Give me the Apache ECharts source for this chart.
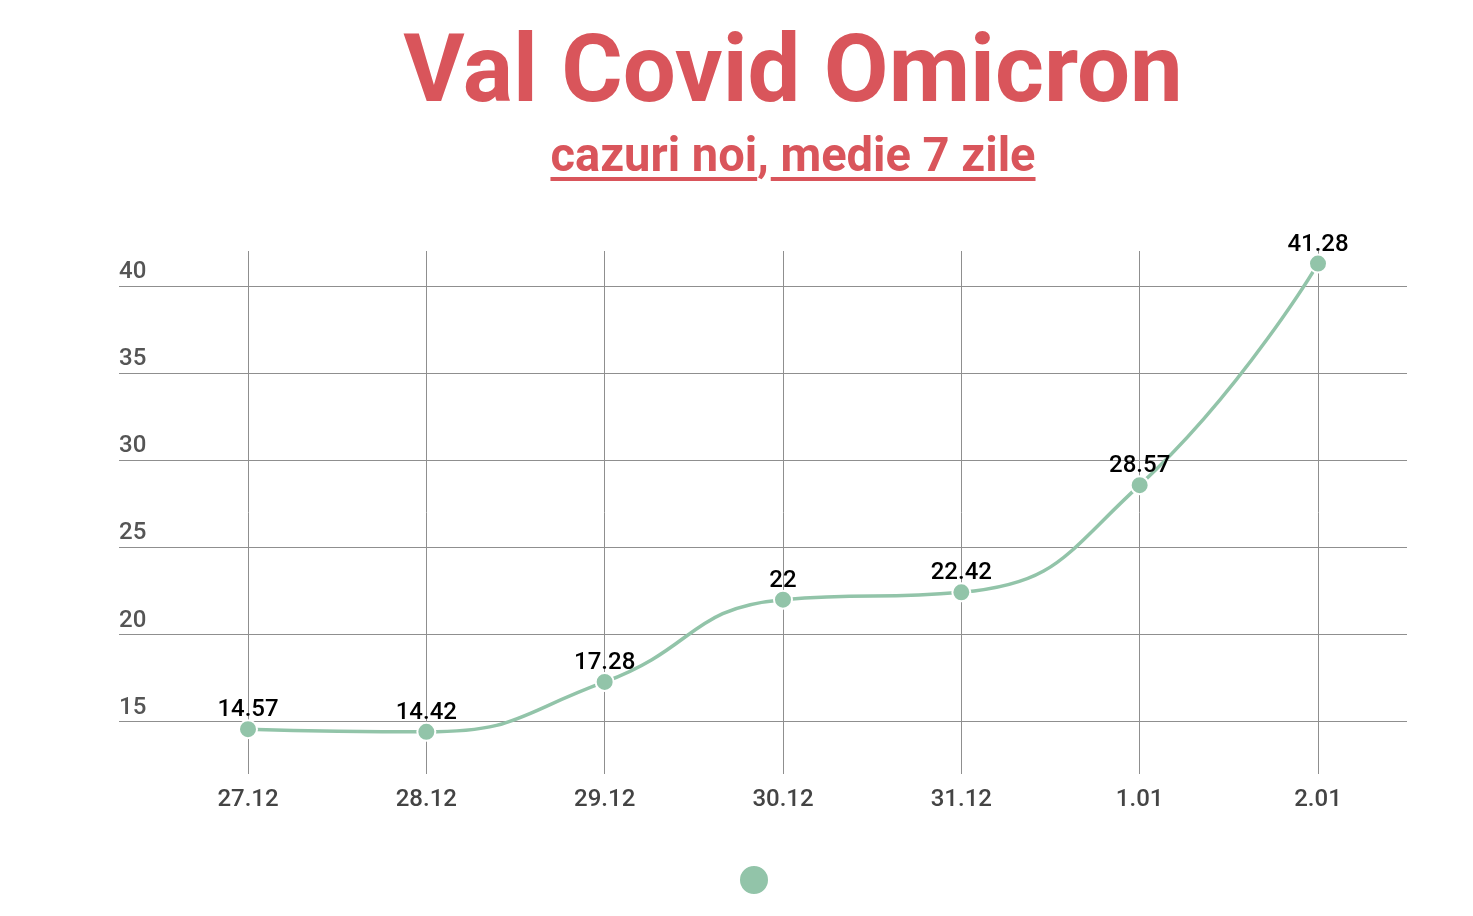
<!DOCTYPE html>
<html>
<head>
<meta charset="utf-8">
<script src="https://cdn.jsdelivr.net/npm/echarts@6/dist/echarts.min.js"></script>
<style>
html,body{margin:0;padding:0;background:#fff;}
#chart{width:1473px;height:916px;}
</style>
</head>
<body>
<div id="chart"></div>
<script>
const titleText = 'Val Covid Omicron';
const subtitleText = 'cazuri noi, medie 7 zile';
const categories = ['27.12', '28.12', '29.12', '30.12', '31.12', '1.01', '2.01'];
const values = [14.57, 14.42, 17.28, 22, 22.42, 28.57, 41.28];
const seriesName = 'cazuri noi';

const RED = '#d9555b';
const GREEN = '#92c4a9';
const FONT = 'Roboto';

function measure(text, font) {
  const c = document.createElement('canvas').getContext('2d');
  c.font = font;
  return c.measureText(text).width;
}

const chart = echarts.init(document.getElementById('chart'), null, {renderer: 'canvas'});
const titleCx = 793;
const subSize = 49;
const subScale = 0.96;
const subFont = 'bold ' + subSize + 'px ' + FONT;
const subW = measure(subtitleText, subFont) * subScale;
const subX0 = titleCx - subW / 2;
const part1 = subtitleText.split(',')[0];
const seg1W = measure(part1, subFont) * subScale;
const seg2X = subX0 + measure(part1 + ',', subFont) * subScale + 2;

const option = {
  backgroundColor: '#fff',
  animation: false,
  graphic: [
    {type: 'text', x: titleCx, y: 77, style: {text: titleText, font: 'bold 94px ' + FONT, fill: RED, align: 'center', verticalAlign: 'middle'}},
    {type: 'text', x: titleCx, y: 159, scaleX: subScale, originX: 0, style: {text: subtitleText, font: subFont, fill: RED, align: 'center', verticalAlign: 'middle'}},
    {type: 'rect', shape: {x: subX0, y: 177, width: seg1W, height: 4}, style: {fill: RED}},
    {type: 'rect', shape: {x: seg2X, y: 177, width: subX0 + subW - seg2X, height: 4}, style: {fill: RED}}
  ],
  legend: {
    left: 733, top: 859, icon: 'circle', itemWidth: 30, itemHeight: 30,
    data: [seriesName], formatter: function () { return ''; }, selectedMode: false
  },
  grid: [
    {left: 248, right: 155, top: 251, bottom: 142},
    {left: 119, right: 66, top: 251, bottom: 142}
  ],
  xAxis: [
    {
      type: 'category', gridIndex: 0, data: categories, boundaryGap: false,
      axisLine: {show: false}, axisTick: {show: false},
      axisLabel: {fontSize: 24, fontWeight: 500, color: '#444', fontFamily: FONT, margin: 14},
      splitLine: {show: true, lineStyle: {color: '#8f8f8f', width: 1}}
    },
    {type: 'value', gridIndex: 1, show: false}
  ],
  yAxis: [
    {type: 'value', gridIndex: 0, min: 12, max: 42, show: false},
    {
      type: 'value', gridIndex: 1, min: 12, max: 42, splitNumber: 6,
      axisLine: {show: false}, axisTick: {show: false},
      axisLabel: {inside: true, margin: 0, align: 'left', verticalAlign: 'bottom', padding: [0, 0, 2, 0],
        fontSize: 24, fontWeight: 500, color: '#555', fontFamily: FONT, showMinLabel: false, showMaxLabel: false},
      splitLine: {show: true, showMinLine: false, showMaxLine: false, lineStyle: {color: '#8f8f8f', width: 1}}
    }
  ],
  series: [{
    name: seriesName, type: 'line', xAxisIndex: 0, yAxisIndex: 0, data: values,
    smooth: true, clip: false,
    symbol: 'circle', symbolSize: 18,
    itemStyle: {color: GREEN, borderColor: '#fff', borderWidth: 2},
    lineStyle: {color: GREEN, width: 3.5},
    label: {show: true, position: 'top', distance: -3, fontSize: 24, fontWeight: 500, color: '#000', fontFamily: FONT},
    z: 5
  }]
};
chart.setOption(option);
</script>
</body>
</html>
